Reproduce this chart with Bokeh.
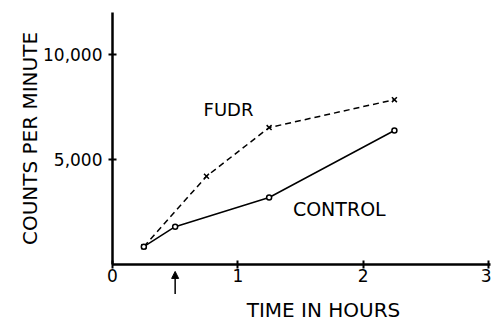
import math
from bokeh.plotting import figure
from bokeh.models import Label, Arrow, NormalHead, FixedTicker, NumeralTickFormatter
from bokeh.embed import file_html
from bokeh.resources import INLINE

# Time (hours) and counts per minute for each treatment
hours = [0.25, 0.5, 1.25, 2.25]
fudr_hours = [0.25, 0.75, 1.25, 2.25]
fudr_counts = [850, 4200, 6520, 7850]
control_counts = [850, 1800, 3190, 6380]
arrow_hour = 0.5

x_ticks = [0, 1, 2, 3]
y_ticks = [5000, 10000]

FONT = "DejaVu Sans"

# The frame fills the canvas; both axes are pinned at zero so that the
# titles and the dosing arrow can sit around them.
p = figure(width=491, height=322, output_backend="svg", toolbar_location=None,
           x_range=(-0.894, 3.025), y_range=(-2762, 12571),
           min_border=0)
p.grid.visible = False
p.outline_line_color = None
p.background_fill_color = "white"
p.border_fill_color = "white"

for ax in (p.xaxis[0], p.yaxis[0]):
    ax.axis_line_width = 2.5
    ax.axis_line_color = "black"
    ax.major_tick_line_width = 2
    ax.major_tick_line_color = "black"
    ax.major_tick_in = 4
    ax.major_tick_out = 4
    ax.minor_tick_line_color = None
    ax.major_label_text_font = FONT
    ax.major_label_text_font_size = "17px"
    ax.major_label_text_color = "black"
    ax.fixed_location = 0

p.xaxis.ticker = FixedTicker(ticks=x_ticks)
p.xaxis.bounds = (0, 3.02)
p.xaxis.major_label_standoff = 1

p.yaxis.ticker = FixedTicker(ticks=y_ticks)
p.yaxis.bounds = (0, 12000)
p.yaxis.formatter = NumeralTickFormatter(format="0,0")
p.yaxis.major_label_standoff = 6

# FUDR-treated series: dashed line with crosses
p.line(fudr_hours, fudr_counts, line_color="black", line_width=1.5, line_dash="6 4")
p.scatter(fudr_hours, fudr_counts, marker="x", size=7, line_color="black", line_width=1.5)

# Control series: solid line with open circles
p.line(hours, control_counts, line_color="black", line_width=1.5)
p.scatter(hours, control_counts, marker="circle", size=5, line_color="black",
          fill_color="white", line_width=1.5)

def caption(x, y, text, size, angle=0.0):
    p.add_layout(Label(x=x, y=y, text=text, angle=angle, text_font=FONT,
                       text_font_size=size, text_color="black",
                       text_align="center", text_baseline="middle"))

caption(0.926, 7357, "FUDR", "18px")
caption(1.81, 2619, "CONTROL", "19px")

# Axis titles
caption(1.684, -2190, "TIME IN HOURS", "20px")
caption(-0.662, 6000, "COUNTS PER MINUTE", "20px", angle=math.pi / 2)

# Arrow marking when the drug was added
p.add_layout(Arrow(x_start=arrow_hour, y_start=-1400, x_end=arrow_hour, y_end=-330,
                   line_color="black", line_width=1.5,
                   end=NormalHead(size=7, fill_color="black", line_color="black")))

open("out.html", "w").write(file_html(p, INLINE))
